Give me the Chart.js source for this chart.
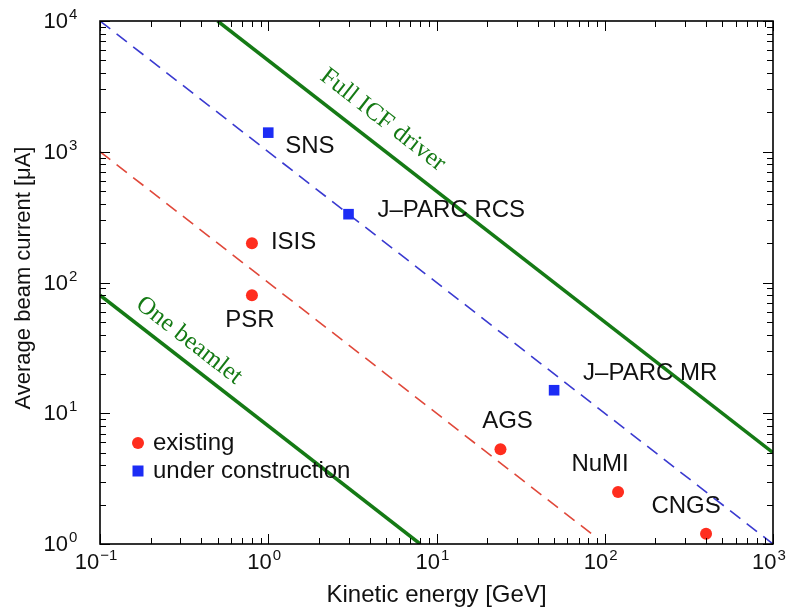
<!DOCTYPE html>
<html><head><meta charset="utf-8">
<script src="https://cdn.jsdelivr.net/npm/chart.js@4.4.1/dist/chart.umd.min.js"></script>
<style>html,body{margin:0;padding:0;background:#fff}canvas{display:block}</style>
</head><body>
<canvas id="c" width="788" height="614"></canvas>
<script>
// ---- data ----
const existingNames = ['ISIS', 'PSR', 'AGS', 'NuMI', 'CNGS'];
const existingEnergy = [0.8, 0.8, 24, 120, 400];        // GeV
const existingCurrent = [200, 80, 5.3, 2.5, 1.2];       // µA
const constructionNames = ['SNS', 'J\u2013PARC RCS', 'J\u2013PARC MR'];
const constructionEnergy = [1.0, 3.0, 50];
const constructionCurrent = [1400, 333, 15];
const fullIcfEnergy = [0.5, 1000];
const fullIcfCurrent = [10000, 5];
const beamletEnergy = [0.1, 8];
const beamletCurrent = [80, 1];
const blueDashEnergy = [0.1, 1000];
const blueDashCurrent = [10000, 1];
const redDashEnergy = [0.1, 90];
const redDashCurrent = [1000, 1.11];
const fullIcfLabelAt = [4.8, 1750];
const beamletLabelAt = [0.338, 36];
const xTickExponents = [-1, 0, 1, 2, 3];
const yTickExponents = [0, 1, 2, 3, 4];

// ---- styles ----
const RED = '#ff2d1e', BLUE = '#1c2cf5', GREEN = '#157a15';
const RED_LINE = '#e0483a', BLUE_LINE = '#3a3ad0';
const SANS = '"Liberation Sans", Arial, sans-serif';
const SERIF = '"Liberation Serif", "Times New Roman", serif';
const labelStyle = {
  'ISIS': {dx: 19, dy: -1, align: 'left'},
  'PSR': {dx: -2, dy: 25, align: 'center'},
  'AGS': {dx: 7, dy: -28, align: 'center'},
  'NuMI': {dx: -18, dy: -28, align: 'center'},
  'CNGS': {dx: -20, dy: -27, align: 'center'},
  'SNS': {dx: 17, dy: 14, align: 'left'},
  'J\u2013PARC RCS': {dx: 29, dy: -4, align: 'left'},
  'J\u2013PARC MR': {dx: 29, dy: -17, align: 'left'}
};
const pts = (xs, ys) => xs.map((x, i) => ({x: x, y: ys[i]}));

function pow10(ctx, exp, x, y, align, baseSize, supSize, supDy) {
  const base = '10', sup = exp < 0 ? '\u2212' + Math.abs(exp) : String(exp);
  ctx.font = baseSize + 'px ' + SANS;
  const wb = ctx.measureText(base).width;
  ctx.font = supSize + 'px ' + SANS;
  const ws = ctx.measureText(sup).width;
  let x0;
  if (align === 'right') x0 = x - wb; else x0 = x - (wb + ws + 1) / 2;
  ctx.textAlign = 'left'; ctx.textBaseline = 'middle';
  ctx.font = baseSize + 'px ' + SANS;
  ctx.fillText(base, x0, y);
  ctx.font = supSize + 'px ' + SANS;
  ctx.fillText(sup, x0 + wb + 1, y + supDy);
}

const decor = {
  id: 'decor',
  afterDatasetsDraw(chart) {
    const ctx = chart.ctx, xs = chart.scales.x, ys = chart.scales.y, a = chart.chartArea;
    ctx.save();
    ctx.fillStyle = '#000'; ctx.strokeStyle = '#000';
    // ticks
    ctx.lineWidth = 1;
    ctx.beginPath();
    for (let p = -1; p <= 3; p++) for (let m = 1; m < 10; m++) {
      const v = m * Math.pow(10, p); if (v > 1000.0001) break;
      const px = Math.round(xs.getPixelForValue(v)) + 0.5, len = m === 1 ? 10 : 6;
      ctx.moveTo(px, a.bottom); ctx.lineTo(px, a.bottom - len);
      ctx.moveTo(px, a.top); ctx.lineTo(px, a.top + len);
    }
    for (let p = 0; p <= 4; p++) for (let m = 1; m < 10; m++) {
      const v = m * Math.pow(10, p); if (v > 10000.0001) break;
      const py = Math.round(ys.getPixelForValue(v)) + 0.5, len = m === 1 ? 10 : 6;
      ctx.moveTo(a.left, py); ctx.lineTo(a.left + len, py);
      ctx.moveTo(a.right, py); ctx.lineTo(a.right - len, py);
    }
    ctx.stroke();
    ctx.lineWidth = 1.6;
    ctx.strokeRect(a.left, a.top, a.right - a.left, a.bottom - a.top);
    // tick labels
    ctx.fillStyle = '#111';
    yTickExponents.forEach(e => {
      const py = ys.getPixelForValue(Math.pow(10, e));
      pow10(ctx, e, a.left - 32, py + 1, 'right', 22, 15, -7);
    });
    xTickExponents.forEach(e => {
      const px = xs.getPixelForValue(Math.pow(10, e));
      pow10(ctx, e, px - 4, a.bottom + 19, 'center', 22, 15, -7);
    });
    // axis titles
    ctx.font = '24px ' + SANS; ctx.textAlign = 'center'; ctx.textBaseline = 'middle';
    ctx.fillText('Kinetic energy [GeV]', (a.left + a.right) / 2, a.bottom + 51);
    ctx.save();
    ctx.translate(24, 278); ctx.rotate(-Math.PI / 2);
    ctx.font = '22px ' + SANS;
    ctx.fillText('Average beam current [\u03bcA]', 0, 0);
    ctx.restore();
    // point labels
    ctx.font = '24px ' + SANS; ctx.textBaseline = 'middle';
    const lab = (names, E, I) => names.forEach((n, i) => {
      const s = labelStyle[n];
      ctx.textAlign = s.align;
      ctx.fillText(n, xs.getPixelForValue(E[i]) + s.dx, ys.getPixelForValue(I[i]) + s.dy);
    });
    lab(existingNames, existingEnergy, existingCurrent);
    lab(constructionNames, constructionEnergy, constructionCurrent);
    // rotated green labels
    const rot = (text, E, I, lineE, lineI) => {
      const dx = xs.getPixelForValue(lineE[1]) - xs.getPixelForValue(lineE[0]);
      const dy = ys.getPixelForValue(lineI[1]) - ys.getPixelForValue(lineI[0]);
      ctx.save();
      ctx.translate(xs.getPixelForValue(E), ys.getPixelForValue(I));
      ctx.rotate(Math.atan2(dy, dx));
      ctx.font = '25px ' + SERIF; ctx.fillStyle = GREEN;
      ctx.textAlign = 'center'; ctx.textBaseline = 'middle';
      ctx.fillText(text, 0, 0);
      ctx.restore();
    };
    rot('Full ICF driver', fullIcfLabelAt[0], fullIcfLabelAt[1], fullIcfEnergy, fullIcfCurrent);
    rot('One beamlet', beamletLabelAt[0], beamletLabelAt[1], beamletEnergy, beamletCurrent);
    // legend
    const lx = a.left + 38, ly1 = a.top + 422, ly2 = a.top + 450;
    ctx.fillStyle = RED;
    ctx.beginPath(); ctx.arc(lx, ly1, 6, 0, Math.PI * 2); ctx.fill();
    ctx.fillStyle = BLUE;
    ctx.fillRect(lx - 5.5, ly2 - 5.5, 11, 11);
    ctx.fillStyle = '#111'; ctx.font = '24px ' + SANS; ctx.textAlign = 'left'; ctx.textBaseline = 'middle';
    ctx.fillText('existing', lx + 15, ly1);
    ctx.fillText('under construction', lx + 15, ly2);
    ctx.restore();
  }
};

new Chart(document.getElementById('c'), {
  type: 'scatter',
  data: {
    datasets: [
      {label: 'existing', data: pts(existingEnergy, existingCurrent), pointStyle: 'circle',
       pointRadius: 6, backgroundColor: RED, borderWidth: 0},
      {label: 'under construction', data: pts(constructionEnergy, constructionCurrent), pointStyle: 'rect',
       pointRadius: 7.5, backgroundColor: BLUE, borderWidth: 0},
      {label: 'Full ICF driver', data: pts(fullIcfEnergy, fullIcfCurrent), showLine: true,
       borderColor: GREEN, borderWidth: 3.5, pointRadius: 0},
      {label: 'One beamlet', data: pts(beamletEnergy, beamletCurrent), showLine: true,
       borderColor: GREEN, borderWidth: 3.5, pointRadius: 0},
      {label: '1 MW', data: pts(blueDashEnergy, blueDashCurrent), showLine: true,
       borderColor: BLUE_LINE, borderWidth: 1.6, borderDash: [13, 8], pointRadius: 0},
      {label: '100 kW', data: pts(redDashEnergy, redDashCurrent), showLine: true,
       borderColor: RED_LINE, borderWidth: 1.6, borderDash: [13, 8], pointRadius: 0}
    ]
  },
  options: {
    responsive: false, animation: false, devicePixelRatio: 1, events: [],
    layout: {padding: {left: 100, right: 15, top: 21, bottom: 70}},
    plugins: {legend: {display: false}, tooltip: {enabled: false}},
    scales: {
      x: {type: 'logarithmic', min: 0.1, max: 1000, display: false},
      y: {type: 'logarithmic', min: 1, max: 10000, display: false}
    }
  },
  plugins: [decor]
});
</script>
</body></html>
